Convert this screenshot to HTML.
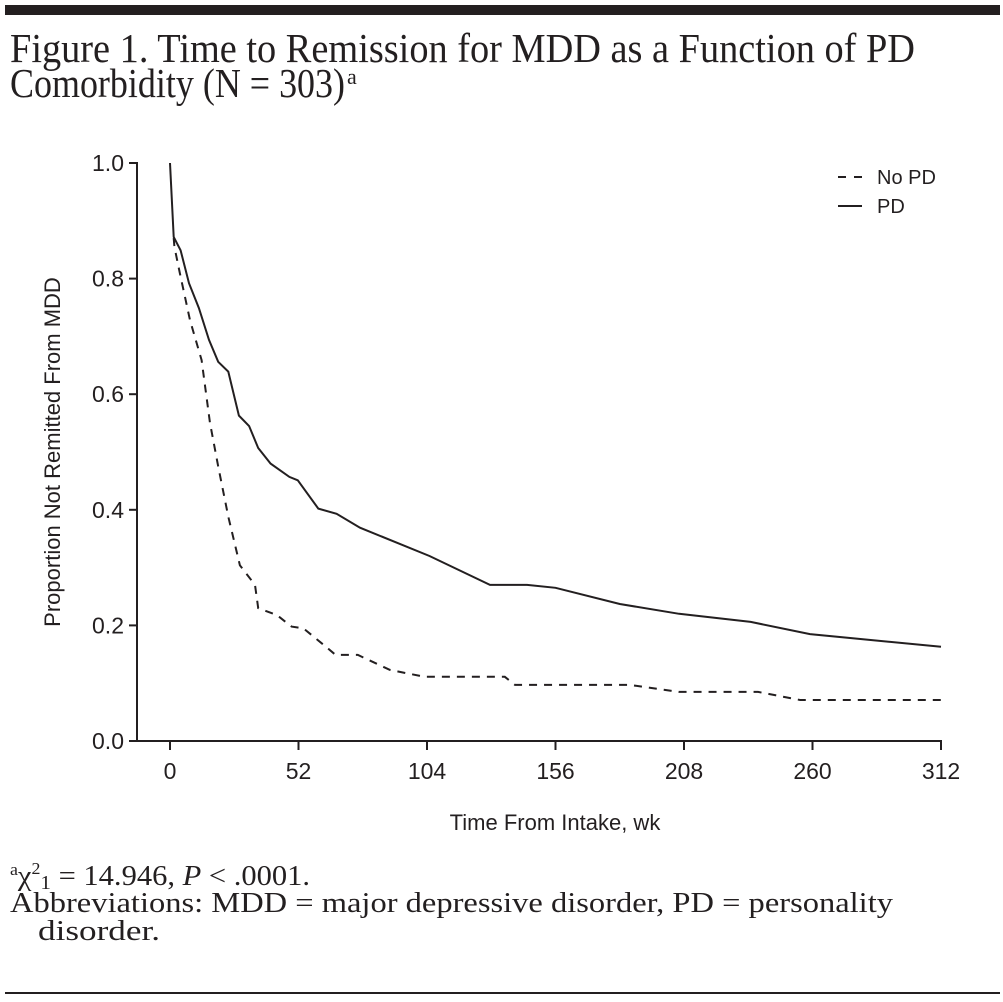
<!DOCTYPE html>
<html><head><meta charset="utf-8"><style>
html,body{margin:0;padding:0;background:#fff;}
svg{display:block;}
.serif{font-family:"Liberation Serif",serif;fill:#231f20;}
.sans{font-family:"Liberation Sans",sans-serif;fill:#231f20;}
</style></head><body>
<svg id="chart" width="1003" height="1002" viewBox="0 0 1003 1002">
<rect x="5" y="5" width="995" height="10" fill="#231f20"/>
<text class="serif" x="10" y="62" font-size="41" textLength="905" lengthAdjust="spacingAndGlyphs">Figure 1. Time to Remission for MDD as a Function of PD</text>
<text class="serif" x="10" y="97" font-size="41" textLength="335" lengthAdjust="spacingAndGlyphs">Comorbidity (N = 303)</text>
<text class="serif" x="347" y="84" font-size="22">a</text>
<g id="axes"></g>
<g id="series"></g>
<g>
<line x1="838" y1="177" x2="862" y2="177" stroke="#231f20" stroke-width="2" stroke-dasharray="8,8"/>
<text class="sans" x="877" y="184" font-size="20">No PD</text>
<line x1="838" y1="206" x2="862" y2="206" stroke="#231f20" stroke-width="2"/>
<text class="sans" x="877" y="213" font-size="20">PD</text>
</g>
<text class="sans" x="555" y="830" font-size="22" text-anchor="middle">Time From Intake, wk</text>
<text class="sans" transform="translate(60,452) rotate(-90)" font-size="22" text-anchor="middle">Proportion Not Remitted From MDD</text>
<text class="serif" x="10" y="885" font-size="29" textLength="300" lengthAdjust="spacingAndGlyphs"><tspan font-size="17" dy="-10">a</tspan><tspan dy="10">χ</tspan><tspan font-size="17" dy="-11">2</tspan><tspan font-size="20" dy="15">1</tspan><tspan dy="-4"> = 14.946, </tspan><tspan font-style="italic">P</tspan><tspan> &lt; .0001.</tspan></text>
<text class="serif" x="10" y="912" font-size="29" textLength="883" lengthAdjust="spacingAndGlyphs">Abbreviations: MDD = major depressive disorder, PD = personality</text>
<text class="serif" x="38" y="940" font-size="29" textLength="122" lengthAdjust="spacingAndGlyphs">disorder.</text>
<rect x="5" y="992" width="995" height="2" fill="#231f20"/>
</svg>
<script>
const xTicks=[0,52,104,156,208,260,312];
const yTicks=[0.0,0.2,0.4,0.6,0.8,1.0];
const yTickLabels=["0.0","0.2","0.4","0.6","0.8","1.0"];
const pdWeeks=[0,1.5,4.3,7.7,11.7,15.8,19.5,23.6,27.9,32,35.7,40.7,48.3,51.7,60,67.4,76.9,105,129.5,144.5,156,182,206,235,259,312];
const pdValues=[1.0,0.872,0.849,0.792,0.749,0.694,0.656,0.639,0.563,0.545,0.507,0.480,0.457,0.451,0.402,0.393,0.369,0.32,0.27,0.27,0.265,0.237,0.22,0.206,0.185,0.163];
const noPdWeeks=[1.5,1.8,4,8.1,12.8,16.2,19.5,23.6,28.3,34.4,35.7,43.2,49.2,54,62,67,76,89,103,121,135.5,139.6,186,206,238,255,312];
const noPdValues=[0.87,0.855,0.809,0.728,0.659,0.55,0.475,0.388,0.304,0.27,0.23,0.218,0.198,0.195,0.167,0.149,0.149,0.123,0.111,0.111,0.111,0.097,0.097,0.085,0.085,0.071,0.071];
const NS="http://www.w3.org/2000/svg";
const X=w=>170+w*771/312;
const Y=v=>741-v*578;
const axes=document.getElementById('axes');
const ser=document.getElementById('series');
function mk(tag,attrs,parent){const e=document.createElementNS(NS,tag);for(const k in attrs)e.setAttribute(k,attrs[k]);parent.appendChild(e);return e;}
let a=mk('line',{x1:137,y1:Y(1)-1,x2:137,y2:Y(0)+1,stroke:'#231f20','stroke-width':2},axes);


let b=mk('line',{x1:137,y1:Y(0),x2:X(312)+1,y2:Y(0),stroke:'#231f20','stroke-width':2},axes);


yTicks.forEach((v,i)=>{
 const t=mk('line',{x1:129,y1:Y(v),x2:137,y2:Y(v),stroke:'#231f20','stroke-width':2},axes);
 
 
 const l=mk('text',{x:124,y:Y(v)+8,'font-size':23,'text-anchor':'end',class:'sans'},axes);
 l.textContent=yTickLabels[i];
 
 
});
xTicks.forEach(w=>{
 const t=mk('line',{x1:X(w),y1:Y(0),x2:X(w),y2:Y(0)+9,stroke:'#231f20','stroke-width':2},axes);
 
 
 const l=mk('text',{x:X(w),y:779,'font-size':23,'text-anchor':'middle',class:'sans'},axes);
 l.textContent=String(w);
 
 
});
function pts(ws,vs){return ws.map((w,i)=>X(w).toFixed(1)+','+Y(vs[i]).toFixed(1)).join(' ');}
const p1=mk('polyline',{points:pts(pdWeeks,pdValues),fill:'none',stroke:'#231f20','stroke-width':2},ser);


const p2=mk('polyline',{points:pts(noPdWeeks,noPdValues),fill:'none',stroke:'#231f20','stroke-width':2,'stroke-dasharray':'8,7'},ser);


</script>
</body></html>
